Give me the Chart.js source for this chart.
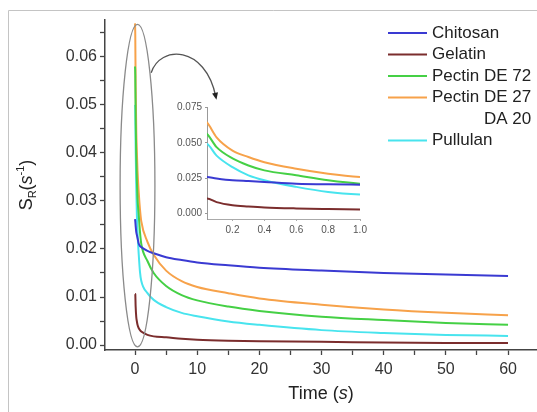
<!DOCTYPE html>
<html lang="en">
<head>
<meta charset="UTF-8" />
<title>S_R versus time</title>
<script src="https://cdn.jsdelivr.net/npm/chart.js"></script>
<style>
  html, body { margin: 0; padding: 0; background: #fff; }
  .wrap { position: relative; width: 537px; height: 412px; overflow: hidden; }
  #mainChart { position: absolute; left: 0; top: 0; }
  #insetChart { position: absolute; left: 150px; top: 95px; }
</style>
</head>
<body>
<div class="wrap">
  <canvas id="mainChart" width="537" height="412"></canvas>
  <canvas id="insetChart" width="220" height="150"></canvas>
</div>

<script>
// time axis (s)
const time = [0, 0.04, 0.1, 0.2, 0.3, 0.4, 0.6, 0.8, 1, 2, 3, 5, 7.5, 10, 15, 20, 30, 40, 50, 60];

// S_R values (1/s)
const chitosan  = [0.0262, 0.0258, 0.0248, 0.0235, 0.0229, 0.0223, 0.0211, 0.0206, 0.0204, 0.0196, 0.0191, 0.0183, 0.0177, 0.0172, 0.0166, 0.0161, 0.0155, 0.0150, 0.0147, 0.0144];
const gelatin   = [0.0107, 0.0106, 0.0080, 0.0058, 0.0049, 0.0042, 0.0035, 0.0031, 0.0028, 0.0021, 0.0018, 0.0016, 0.0013, 0.0011, 0.0009, 0.0008, 0.0007, 0.0005, 0.0004, 0.0004];
const pectin72  = [0.0580, 0.0563, 0.0470, 0.0390, 0.0340, 0.0305, 0.0270, 0.0235, 0.0211, 0.0175, 0.0150, 0.0123, 0.0104, 0.0093, 0.0080, 0.0071, 0.0059, 0.0052, 0.0046, 0.0042];
const pectin27  = [0.0670, 0.0645, 0.0540, 0.0446, 0.0400, 0.0363, 0.0317, 0.0282, 0.0258, 0.0215, 0.0188, 0.0155, 0.0133, 0.0121, 0.0108, 0.0097, 0.0084, 0.0074, 0.0067, 0.0062];
const pullulan  = [0.0500, 0.0493, 0.0410, 0.0328, 0.0270, 0.0235, 0.0188, 0.0152, 0.0134, 0.0108, 0.0094, 0.0079, 0.0067, 0.0060, 0.0049, 0.0042, 0.0031, 0.0025, 0.0021, 0.0019];

const legendLabels = [['Chitosan'], ['Gelatin'], ['Pectin DE 72'], ['Pectin DE 27', 'DA 20'], ['Pullulan']];

// tick labels
const xTickLabels = [0, 10, 20, 30, 40, 50, 60];
const yTickLabels = [0, 0.01, 0.02, 0.03, 0.04, 0.05, 0.06];
const insetXTicks = [0.2, 0.4, 0.6, 0.8, 1.0];
const insetYTicks = [0, 0.025, 0.05, 0.075];

const colors = ['#3a3ad2', '#7b2d2d', '#45d045', '#f7a24a', '#48e4ee'];
const seriesValues = [chitosan, gelatin, pectin72, pectin27, pullulan];
const FONT = "'Liberation Sans', Arial, sans-serif";

function makeDatasets(width) {
  return seriesValues.map((vals, i) => ({
    label: legendLabels[i].join(' '),
    data: time.map((t, k) => ({ x: t, y: vals[k] })),
    borderColor: colors[i],
    borderWidth: width,
    pointRadius: 0,
    cubicInterpolationMode: 'monotone',
    fill: false
  }));
}

// labelled ticks plus a minor tick halfway to the next one (and one past the last)
function withMinor(list) {
  const step = list[1] - list[0];
  const out = [];
  list.forEach(v => {
    out.push(v);
    out.push(Math.round((v + step / 2) * 10000) / 10000);
  });
  return out;
}

// ellipse + arrow around t=0 (data units)
const ring = { t: 0.4, v: 0.0332, dt: 2.8, dv: 0.0336 };
const arrow = { p0: [2.6, 0.0567], c1: [4.0, 0.0625], c2: [11.3, 0.0625], p1: [13.0, 0.0517] };

const decorations = {
  id: 'decorations',
  afterDatasetsDraw(chart) {
    const { ctx, scales: { x, y } } = chart;
    ctx.save();
    ctx.strokeStyle = '#8a8a8a';
    ctx.lineWidth = 1.3;
    const cx = x.getPixelForValue(ring.t), cy = y.getPixelForValue(ring.v);
    const rx = x.getPixelForValue(ring.t + ring.dt) - cx;
    const ry = cy - y.getPixelForValue(ring.v + ring.dv);
    ctx.beginPath();
    ctx.ellipse(cx, cy, rx, ry, 0, 0, Math.PI * 2);
    ctx.stroke();

    const P = p => [x.getPixelForValue(p[0]), y.getPixelForValue(p[1])];
    const a = P(arrow.p0), b = P(arrow.c1), c = P(arrow.c2), d = P(arrow.p1);
    ctx.strokeStyle = '#555';
    ctx.beginPath();
    ctx.moveTo(a[0], a[1]);
    ctx.bezierCurveTo(b[0], b[1], c[0], c[1], d[0], d[1]);
    ctx.stroke();
    const ang = Math.atan2(d[1] - c[1], d[0] - c[0]);
    ctx.fillStyle = '#222';
    ctx.beginPath();
    ctx.moveTo(d[0] + 3 * Math.cos(ang), d[1] + 3 * Math.sin(ang));
    ctx.lineTo(d[0] - 4 * Math.cos(ang) + 3 * Math.sin(ang), d[1] - 4 * Math.sin(ang) - 3 * Math.cos(ang));
    ctx.lineTo(d[0] - 4 * Math.cos(ang) - 3 * Math.sin(ang), d[1] - 4 * Math.sin(ang) + 3 * Math.cos(ang));
    ctx.closePath();
    ctx.fill();
    ctx.restore();
  },
  afterDraw(chart) {
    const { ctx, chartArea } = chart;
    ctx.save();

    // picture frame
    ctx.strokeStyle = '#c4c4c4';
    ctx.lineWidth = 1;
    ctx.beginPath();
    ctx.moveTo(8.5, 420);
    ctx.lineTo(8.5, 10.5);
    ctx.lineTo(540, 10.5);
    ctx.stroke();

    ctx.fillStyle = '#222';
    ctx.textBaseline = 'alphabetic';

    // x title: Time (s)
    const parts = [['Time (', '18px ' + FONT], ['s', 'italic 18px ' + FONT], [')', '18px ' + FONT]];
    let w = 0;
    parts.forEach(p => { ctx.font = p[1]; w += ctx.measureText(p[0]).width; });
    let px = (chartArea.left + chartArea.right) / 2 - w / 2;
    parts.forEach(p => { ctx.font = p[1]; ctx.fillText(p[0], px, 399); px += ctx.measureText(p[0]).width; });

    // y title: S_R(s^-1)
    ctx.save();
    ctx.translate(32, (chartArea.top + chartArea.bottom) / 2);
    ctx.rotate(-Math.PI / 2);
    const yparts = [
      ['S', '18px ' + FONT, 0], ['R', '11px ' + FONT, 4], ['(', '18px ' + FONT, 0],
      ['s', 'italic 18px ' + FONT, 0], ['-1', '11px ' + FONT, -8], [')', '18px ' + FONT, 0]
    ];
    w = 0;
    yparts.forEach(p => { ctx.font = p[1]; w += ctx.measureText(p[0]).width; });
    px = -w / 2;
    yparts.forEach(p => { ctx.font = p[1]; ctx.fillText(p[0], px, p[2]); px += ctx.measureText(p[0]).width; });
    ctx.restore();

    // legend
    ctx.font = '17px ' + FONT;
    ctx.textBaseline = 'middle';
    let row = 33;
    legendLabels.forEach((lines, i) => {
      ctx.strokeStyle = colors[i];
      ctx.lineWidth = 2;
      ctx.beginPath();
      ctx.moveTo(388, row);
      ctx.lineTo(427, row);
      ctx.stroke();
      ctx.fillStyle = '#222';
      ctx.textAlign = 'left';
      ctx.fillText(lines[0], 432, row);
      const end = 432 + ctx.measureText(lines[0]).width;
      for (let k = 1; k < lines.length; k++) {
        row += 21.5;
        ctx.textAlign = 'right';
        ctx.fillText(lines[k], end, row);
      }
      row += 21.5;
    });
    ctx.restore();
  }
};

const xMainTicks = withMinor(xTickLabels).filter(v => v <= 60);
const yMainTicks = withMinor(yTickLabels).filter(v => v <= 0.0677);

new Chart(document.getElementById('mainChart'), {
  type: 'line',
  data: { datasets: makeDatasets(2) },
  options: {
    responsive: false,
    animation: false,
    events: [],
    layout: { padding: { top: 20, right: 0, bottom: 0, left: 0 }, autoPadding: false },
    plugins: { legend: { display: false }, tooltip: { enabled: false } },
    scales: {
      x: {
        type: 'linear', min: -4.83, max: 64.66,
        afterBuildTicks: s => { s.ticks = xMainTicks.map(v => ({ value: v })); },
        afterFit: s => { s.height = 62; },
        grid: { drawOnChartArea: false, tickLength: 5, color: '#444', tickWidth: 1.3 },
        border: { color: '#444', width: 1.5 },
        ticks: {
          autoSkip: false, maxRotation: 0, padding: 5, color: '#333',
          font: { family: FONT, size: 16 },
          callback: v => xTickLabels.includes(v) ? String(v) : ''
        }
      },
      y: {
        type: 'linear', min: -0.00104, max: 0.0677,
        afterBuildTicks: s => { s.ticks = yMainTicks.map(v => ({ value: v })); },
        afterFit: s => { s.width = 105; },
        grid: { drawOnChartArea: false, tickLength: 5, color: '#444', tickWidth: 1.3 },
        border: { color: '#444', width: 1.5 },
        ticks: {
          autoSkip: false, padding: 3, color: '#333',
          font: { family: FONT, size: 16 },
          callback: v => yTickLabels.some(t => Math.abs(t - v) < 1e-9) ? v.toFixed(2) : ''
        }
      }
    }
  },
  plugins: [decorations]
});

new Chart(document.getElementById('insetChart'), {
  type: 'line',
  data: { datasets: makeDatasets(2) },
  options: {
    responsive: false,
    animation: false,
    events: [],
    layout: { padding: { top: 12, right: 10, bottom: 0, left: 0 }, autoPadding: false },
    plugins: { legend: { display: false }, tooltip: { enabled: false } },
    scales: {
      x: {
        type: 'linear', min: 0.04, max: 1.0,
        afterBuildTicks: s => { s.ticks = insetXTicks.map(v => ({ value: v })); },
        afterFit: s => { s.height = 26; },
        grid: { drawOnChartArea: false, tickLength: 2, color: '#aaa' },
        border: { color: '#aaa', width: 1, dash: [2, 2] },
        ticks: {
          autoSkip: false, maxRotation: 0, padding: 3, color: '#555',
          font: { family: FONT, size: 10 },
          callback: v => v.toFixed(1)
        }
      },
      y: {
        type: 'linear', min: -0.004, max: 0.0755,
        afterBuildTicks: s => { s.ticks = insetYTicks.map(v => ({ value: v })); },
        afterFit: s => { s.width = 57; },
        grid: { drawOnChartArea: false, tickLength: 2, color: '#999' },
        border: { color: '#999', width: 1 },
        ticks: {
          autoSkip: false, padding: 3, color: '#555',
          font: { family: FONT, size: 10 },
          callback: v => v.toFixed(3)
        }
      }
    }
  }
});
</script>
</body>
</html>
